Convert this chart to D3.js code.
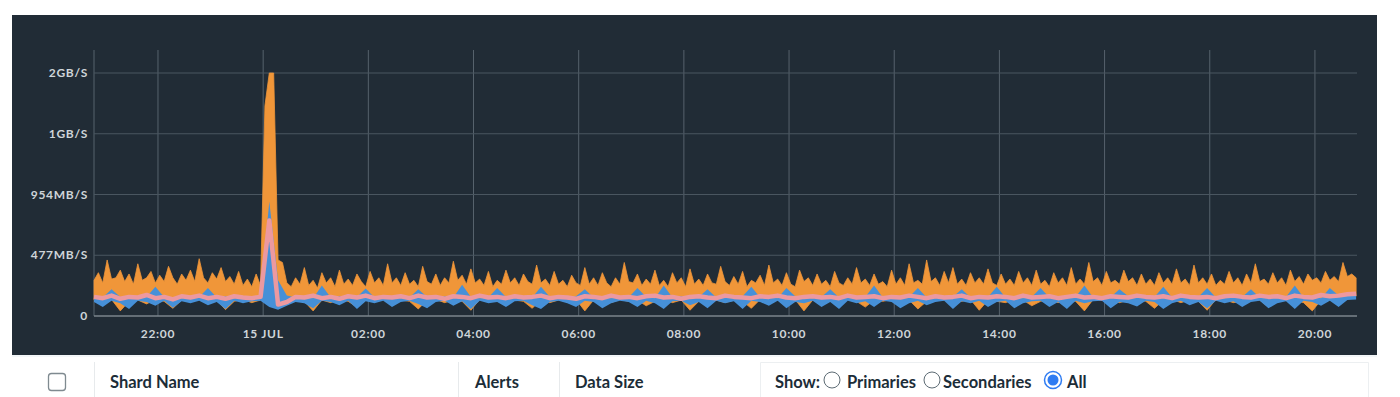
<!DOCTYPE html>
<html lang="en">
<head>
  <meta charset="UTF-8">
  <title>Shard network</title>
  <script src="https://d3js.org/d3.v7.min.js"></script>
  <style>
    body { margin: 0; background: #fff; }
    svg { display: block; font-family: Lato, "Open Sans", sans-serif; }
    .tick-label { fill: #cfd5d9; font-size: 12px; font-weight: 700; letter-spacing: 0.7px; }
    .head { fill: #1c2d38; font-size: 16.5px; font-weight: 700; }
  </style>
</head>
<body>
<svg id="chart" width="1400" height="397"></svg>
<script>
  // y ticks (MB/s) and their labels
  const yTicks = [0, 477, 954, 1431, 1908];
  const yTickLabels = ["0", "477MB/S", "954MB/S", "1GB/S", "2GB/S"];

  // orange upper edge, every 5 min from 20:47 (MB/s)
  const orangeHi = [
    280, 340, 260, 440, 290, 300, 360, 270, 330, 250, 410, 280, 300, 350, 260,
    320, 270, 390, 300, 250, 330, 280, 360, 270, 450, 300, 260, 340, 290, 380,
    270, 310, 250, 350, 240, 290, 230, 330, 240, 1650, 1908, 1908, 440, 420, 260,
    230, 300, 250, 380, 240, 280, 220, 340, 260, 300, 230, 360,
    250, 290, 240, 330, 270, 230, 350, 260, 300, 240, 410, 260,
    300, 240, 340, 250, 280, 230, 390, 270, 250, 330, 240, 300,
    260, 430, 280, 320, 250, 370, 260, 290, 240, 350, 230, 280,
    250, 360, 260, 300, 240, 330, 270, 250, 400, 260, 290, 240,
    350, 250, 280, 230, 320, 260, 240, 380, 250, 300, 240, 340,
    260, 230, 300, 250, 420, 270, 260, 330, 240, 290, 250, 360,
    240, 280, 230, 340, 260, 300, 230, 370, 250, 290, 240, 330,
    260, 250, 390, 270, 240, 310, 250, 350, 230, 280, 260, 320,
    240, 400, 260, 290, 240, 340, 250, 230, 360, 270, 300, 240,
    330, 250, 280, 230, 350, 260, 240, 300, 250, 380, 260, 290,
    240, 330, 250, 270, 230, 360, 250, 300, 240, 410, 260, 280,
    250, 440, 270, 300, 240, 350, 260, 380, 250, 290, 240, 340,
    260, 300, 250, 370, 260, 240, 330, 250, 290, 240, 350, 260,
    300, 240, 360, 250, 280, 230, 340, 260, 300, 240, 380, 250,
    290, 250, 420, 270, 300, 240, 350, 260, 280, 250, 360, 270,
    300, 240, 330, 250, 290, 240, 340, 260, 300, 250, 370, 260,
    290, 240, 400, 260, 300, 250, 330, 240, 280, 250, 350, 260,
    300, 240, 330, 260, 410, 270, 290, 250, 340, 260, 300, 240,
    360, 270, 310, 250, 330, 280, 300, 260, 350, 280, 310, 270,
    420, 310, 330, 300
  ];

  // the rest every 10 min from 20:47 (MB/s)
  const orangeLo = [
    125, 105, 130, 40, 115, 125, 95, 130, 115, 60, 125, 115,
    130, 105, 125, 50, 115, 130, 105, 125, 200, 160, 90, 125,
    115, 40, 125, 105, 130, 115, 70, 125, 115, 130, 105, 125,
    115, 55, 125, 130, 105, 125, 115, 45, 130, 115, 125, 105,
    125, 115, 60, 130, 105, 125, 115, 130, 40, 125, 115, 105,
    130, 115, 125, 80, 115, 130, 105, 125, 45, 115, 130, 125,
    105, 125, 115, 60, 130, 115, 125, 105, 130, 40, 125, 115,
    125, 105, 130, 115, 70, 125, 115, 130, 105, 125, 55, 115,
    130, 125, 105, 115, 130, 45, 125, 115, 105, 130, 125, 80,
    115, 130, 105, 125, 115, 40, 130, 125, 115, 105, 125, 130,
    115, 60, 125, 130, 105, 125, 115, 45, 130, 125, 105, 115,
    130, 125, 70, 115, 130, 125, 105, 40, 125, 130, 115, 145,
    155
  ];
  const blueHi = [
    150, 145, 210, 150, 140, 155, 150, 230, 150, 145, 160, 140,
    150, 220, 145, 155, 140, 150, 145, 155, 900, 280, 160, 145,
    150, 140, 240, 145, 155, 140, 150, 215, 145, 155, 140, 150,
    145, 210, 150, 140, 155, 145, 245, 150, 140, 145, 220, 150,
    140, 155, 145, 230, 150, 140, 145, 155, 210, 145, 150, 140,
    155, 145, 220, 150, 140, 240, 145, 155, 140, 150, 210, 145,
    150, 140, 155, 230, 145, 150, 140, 220, 155, 145, 140, 150,
    210, 145, 155, 140, 150, 240, 145, 140, 155, 150, 220, 145,
    140, 155, 150, 210, 145, 140, 150, 230, 145, 155, 140, 150,
    220, 145, 140, 155, 150, 240, 145, 140, 150, 210, 155, 145,
    140, 150, 230, 145, 155, 140, 150, 220, 145, 140, 155, 150,
    210, 145, 155, 140, 150, 240, 145, 155, 140, 220, 160, 165,
    175
  ];
  const blueLo = [
    110, 70, 120, 100, 55, 120, 110, 80, 120, 65, 115, 100,
    120, 85, 110, 55, 120, 100, 115, 120, 70, 50, 80, 110,
    100, 60, 120, 110, 85, 120, 55, 115, 100, 120, 70, 110,
    120, 95, 60, 110, 120, 80, 115, 55, 120, 100, 110, 70,
    115, 120, 85, 55, 110, 120, 100, 70, 120, 110, 60, 100,
    120, 110, 70, 120, 100, 55, 115, 120, 85, 110, 60, 120,
    100, 115, 55, 120, 110, 80, 120, 60, 110, 100, 120, 70,
    110, 55, 120, 100, 115, 70, 120, 110, 60, 100, 120, 85,
    110, 120, 55, 115, 100, 120, 70, 110, 120, 60, 100, 115,
    120, 70, 110, 55, 120, 100, 115, 120, 60, 110, 100, 75,
    120, 110, 55, 100, 120, 85, 110, 60, 120, 100, 115, 70,
    110, 120, 60, 100, 115, 55, 120, 110, 80, 120, 70, 125,
    130
  ];
  const pink = [
    150, 140, 160, 135, 150, 145, 165, 140, 150, 130, 155, 145,
    160, 140, 150, 135, 155, 145, 140, 150, 750, 90, 110, 150,
    145, 160, 140, 150, 135, 155, 145, 160, 140, 150, 145, 155,
    140, 160, 145, 150, 135, 155, 150, 140, 160, 145, 150, 140,
    155, 145, 150, 160, 140, 150, 145, 135, 155, 150, 140, 160,
    145, 150, 140, 155, 160, 145, 150, 135, 150, 155, 145, 140,
    160, 150, 145, 140, 155, 150, 160, 145, 140, 150, 155, 145,
    150, 140, 160, 145, 150, 155, 140, 150, 145, 160, 150, 140,
    155, 145, 150, 160, 140, 150, 145, 155, 150, 140, 160, 145,
    150, 155, 140, 150, 160, 145, 150, 140, 155, 150, 145, 160,
    150, 145, 155, 140, 160, 150, 145, 150, 140, 155, 160, 150,
    145, 160, 150, 155, 140, 160, 150, 145, 165, 155, 160, 170,
    175
  ];

  const t0 = new Date(2023, 6, 14, 20, 47);
  const t1 = new Date(2023, 6, 15, 20, 48);
  const at = (i, step) => d3.timeMinute.offset(t0, i * step);

  const svg = d3.select("#chart");

  // dark panel
  svg.append("rect").attr("x", 12).attr("y", 15).attr("width", 1365).attr("height", 340).attr("fill", "#212c36");
  svg.append("line").attr("x1", 12).attr("x2", 1377).attr("y1", 356).attr("y2", 356).attr("stroke", "#e6edf1");

  const x = d3.scaleTime().domain([t0, t1]).range([94, 1357]);
  const y = d3.scaleLinear().domain([0, 1908]).range([316, 73]);

  // grid
  const xTicks = d3.timeHour.every(2).range(t0, t1);
  svg.append("g").selectAll("line").data([t0].concat(xTicks)).join("line")
    .attr("x1", d => x(d)).attr("x2", d => x(d))
    .attr("y1", 50).attr("y2", 316)
    .attr("stroke", "#56626c").attr("stroke-width", 1);
  svg.append("g").selectAll("line").data(yTicks).join("line")
    .attr("x1", 94).attr("x2", 1357)
    .attr("y1", d => y(d)).attr("y2", d => y(d))
    .attr("stroke", d => d === 0 ? "#7b858c" : "#4a5660").attr("stroke-width", d => d === 0 ? 1.5 : 1);

  // series
  const hiPts = orangeHi.map((v, i) => [x(at(i, 5)), y(v)]);
  const loPts = orangeLo.map((v, i) => [x(at(i, 10)), y(v)]).reverse();
  svg.append("path")
    .attr("d", d3.line()(hiPts.concat(loPts)) + "Z")
    .attr("fill", "#f09639").attr("stroke", "#f09639").attr("stroke-width", 0.8);

  const blue = blueHi.map((v, i) => ({ t: at(i, 10), hi: v, lo: blueLo[i] }));
  svg.append("path").datum(blue)
    .attr("d", d3.area().x(d => x(d.t)).y0(d => y(d.lo)).y1(d => y(d.hi)))
    .attr("fill", "#4690d8");

  svg.append("path").datum(pink.map((v, i) => ({ t: at(i, 10), v })))
    .attr("d", d3.line().x(d => x(d.t)).y(d => y(d.v)))
    .attr("fill", "none").attr("stroke", "#ec99a0").attr("stroke-width", 4.5)
    .attr("stroke-linejoin", "round");

  // axes labels
  svg.append("g").selectAll("text").data(yTicks).join("text")
    .attr("class", "tick-label")
    .attr("x", 88).attr("y", d => y(d) + 4)
    .attr("text-anchor", "end")
    .text((d, i) => yTickLabels[i]);

  const fmt = d => d.getHours() === 0 ? d3.timeFormat("%-d %b")(d).toUpperCase() : d3.timeFormat("%H:%M")(d);
  svg.append("g").selectAll("text").data(xTicks).join("text")
    .attr("class", "tick-label")
    .attr("x", d => x(d)).attr("y", 338)
    .attr("text-anchor", "middle")
    .text(fmt);

  // table header row
  const hdr = svg.append("g");
  hdr.append("rect").attr("x", 48.5).attr("y", 373.5).attr("width", 17).attr("height", 17).attr("rx", 3)
    .attr("fill", "#fff").attr("stroke", "#7f8a90").attr("stroke-width", 1.3);
  [94, 458, 559].forEach(sx => hdr.append("line").attr("x1", sx + 0.5).attr("x2", sx + 0.5).attr("y1", 362).attr("y2", 397).attr("stroke", "#e7eaec"));
  hdr.append("path").attr("d", "M760.5,397V362.5H1368.5V397").attr("fill", "none").attr("stroke", "#eceff1");
  hdr.append("text").attr("class", "head").attr("x", 110).attr("y", 388).text("Shard Name");
  hdr.append("text").attr("class", "head").attr("x", 475).attr("y", 388).text("Alerts");
  hdr.append("text").attr("class", "head").attr("x", 575).attr("y", 388).text("Data Size");
  hdr.append("text").attr("class", "head").attr("x", 775).attr("y", 388).text("Show:");
  hdr.append("circle").attr("cx", 832).attr("cy", 380).attr("r", 8).attr("fill", "#fff").attr("stroke", "#5d6b74");
  hdr.append("text").attr("class", "head").attr("x", 847).attr("y", 388).text("Primaries");
  hdr.append("circle").attr("cx", 932).attr("cy", 380).attr("r", 8).attr("fill", "#fff").attr("stroke", "#5d6b74");
  hdr.append("text").attr("class", "head").attr("x", 943).attr("y", 388).text("Secondaries");
  hdr.append("circle").attr("cx", 1053).attr("cy", 380).attr("r", 8.5).attr("fill", "#fff").attr("stroke", "#2f7cf2").attr("stroke-width", 1.5);
  hdr.append("circle").attr("cx", 1053).attr("cy", 380).attr("r", 5.5).attr("fill", "#2f7cf2");
  hdr.append("text").attr("class", "head").attr("x", 1067).attr("y", 388).text("All");
</script>
</body>
</html>
